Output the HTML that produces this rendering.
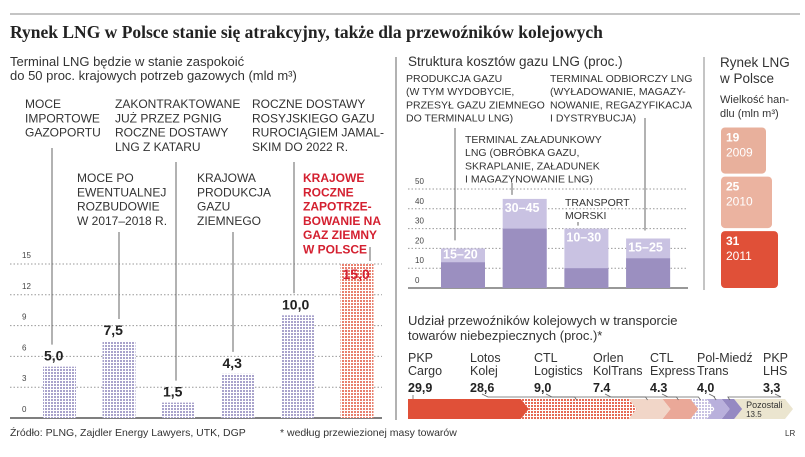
<!DOCTYPE html>
<html><head><meta charset="utf-8"><style>
html,body{margin:0;padding:0;background:#fff;}
svg{display:block;font-family:"Liberation Sans",sans-serif;}
</style></head><body>
<svg id="s" width="805" height="457" viewBox="0 0 805 457" xmlns="http://www.w3.org/2000/svg">
<line x1="10" y1="14" x2="800" y2="14" stroke="#888" stroke-width="1"/>
<text x="10" y="38" font-family="Liberation Serif,serif" font-weight="bold" font-size="17.5" fill="#222">Rynek LNG w Polsce stanie się atrakcyjny, także dla przewoźników kolejowych</text>
<line x1="396" y1="57" x2="396" y2="420" stroke="#666"/>
<line x1="704" y1="57" x2="704" y2="290" stroke="#888"/>
<g font-size="13" fill="#333">
<text x="10" y="66">Terminal LNG będzie w stanie zaspokoić</text>
<text x="10" y="80">do 50 proc. krajowych potrzeb gazowych (mld m³)</text>
</g>
<g id="left"></g>
<g font-size="13.5" fill="#333">
<text x="408" y="66">Struktura kosztów gazu LNG (proc.)</text>
</g>
<g id="mid"></g>
<g fill="#333">
<text x="720" y="67" font-size="13.5">Rynek LNG</text>
<text x="720" y="83" font-size="13.5">w Polsce</text>
<text x="720" y="103" font-size="11">Wielkość han-</text>
<text x="720" y="117" font-size="11">dlu (mln m³)</text>
</g>
<g id="mkt"></g>
<g fill="#333" font-size="13">
<text x="408" y="325">Udział przewoźników kolejowych w transporcie</text>
<text x="408" y="340">towarów niebezpiecznych (proc.)*</text>
</g>
<g id="rail"></g>
<g fill="#333" font-size="10.5">
<text x="10" y="436">Źródło: PLNG, Zajdler Energy Lawyers, UTK, DGP</text>
<text x="280" y="436">* według przewiezionej masy towarów</text>
<text x="785" y="436" font-size="8">LR</text>
</g>
<defs>
<pattern id="dotP" width="3" height="3" patternUnits="userSpaceOnUse"><rect width="3" height="3" fill="#fff"/><rect width="2" height="2" fill="#a9a3cc"/></pattern>
<pattern id="dotR" width="3" height="3" patternUnits="userSpaceOnUse"><rect width="3" height="3" fill="#fff"/><rect width="2" height="2" fill="#e8806e"/></pattern>
<pattern id="dotRail" width="3" height="3" patternUnits="userSpaceOnUse"><rect width="3" height="3" fill="#fff"/><rect width="2" height="2" fill="#e66a55"/></pattern>
<pattern id="dotLav" width="3" height="3" patternUnits="userSpaceOnUse"><rect width="3" height="3" fill="#fff"/><rect width="2" height="2" fill="#c9c2e2"/></pattern>
</defs>
</svg>
<script>
const NS="http://www.w3.org/2000/svg";
// left chart data
const supplyCats=["moce-importowe","moce-po-rozbudowie","katar","krajowa-produkcja","jamal","zapotrzebowanie"];
const supplyValues=[5.0,7.5,1.5,4.3,10.0,15.0];
const supplyLabels=["5,0","7,5","1,5","4,3","10,0","15,0"];
const leftTicks=[0,3,6,9,12,15];
// cost chart data
const costCats=["produkcja","terminal-zaladunkowy","transport","terminal-odbiorczy"];
const costLow=[13,30,10,15];
const costHigh=[20,45,30,25];
const costLabels=["15–20","30–45","10–30","15–25"];
const costTicks=[0,10,20,30,40,50];
// market
const mktYears=["2009","2010","2011"];
const mktValues=[19,25,31];
// rail
const railNames=[["PKP","Cargo"],["Lotos","Kolej"],["CTL","Logistics"],["Orlen","KolTrans"],["CTL","Express"],["Pol-Miedź","Trans"],["PKP","LHS"],["Pozostali"]];
const railValues=[29.9,28.6,9.0,7.4,4.3,4.0,3.3,13.5];
const railSep=[",",",",",",".",".",",",","];

function el(tag,attrs,parent,txt){const e=document.createElementNS(NS,tag);for(const k in attrs)e.setAttribute(k,attrs[k]);if(txt!==undefined)e.textContent=txt;parent.appendChild(e);return e;}

// LEFT
const L=document.getElementById('left');
const ly=v=>418-v*10.27;
const lx=i=>43+i*59.5;
leftTicks.forEach(t=>{
 const g=el('line',{x1:10,x2:382,y1:ly(t),y2:ly(t),stroke:t===0?'#555':'#999','stroke-dasharray':t===0?'':'1.5,2','stroke-width':t===0?1.5:1},L);
 
 
 const tx=el('text',{x:22,y:ly(t)-6,'font-size':8,fill:'#444'},L,String(t));
 
 
});
const leadTop=[148,232,162,232,162,247];
const leadX=[52,119,176,233,294,370];
supplyValues.forEach((v,i)=>{
 const r=el('rect',{x:lx(i),y:ly(v),width:33,height:418-ly(v),fill:i===5?'url(#dotR)':'url(#dotP)'},L);
 
 
 const t=el('text',{x:lx(i)+(i===5?2:1),y:i===5?ly(v)+15:ly(v)-6,'font-size':14,'font-weight':'bold',fill:i===5?'#d42030':'#222'},L,supplyLabels[i]);
 
 
 const yEnd=i===5?ly(v)-3:ly(v)-22;
 const ln=el('line',{x1:leadX[i],x2:leadX[i],y1:leadTop[i],y2:yEnd,stroke:'#666'},L);
 
 
});
const annos=[
 [25,108,["MOCE","IMPORTOWE","GAZOPORTU"],'#333',false],
 [115,108,["ZAKONTRAKTOWANE","JUŻ PRZEZ PGNIG","ROCZNE DOSTAWY","LNG Z KATARU"],'#333',false],
 [252,108,["ROCZNE DOSTAWY","ROSYJSKIEGO GAZU","RUROCIĄGIEM JAMAL-","SKIM DO 2022 R."],'#333',false],
 [77,182,["MOCE PO","EWENTUALNEJ","ROZBUDOWIE","W 2017–2018 R."],'#333',false],
 [197,182,["KRAJOWA","PRODUKCJA","GAZU","ZIEMNEGO"],'#333',false],
 [303,182,["KRAJOWE","ROCZNE","ZAPOTRZE-","BOWANIE NA","GAZ ZIEMNY","W POLSCE"],'#d42030',true]
];
annos.forEach(a=>{a[2].forEach((s,j)=>{const t=el('text',{x:a[0],y:a[1]+j*14.3,'font-size':a[4]?12:12,'font-weight':a[4]?'bold':'normal',fill:a[3]},L,s);
 
 });});

// MID
const M=document.getElementById('mid');
const my=v=>288-v*1.98;
const mx=i=>441+i*61.7;
costTicks.forEach(t=>{
 const g=el('line',{x1:408,x2:688,y1:my(t),y2:my(t),stroke:t===0?'#777':'#999','stroke-dasharray':t===0?'':'1.5,2','stroke-width':t===0?1.5:1},M);
 
 
 const tx=el('text',{x:415,y:my(t)-5,'font-size':8,fill:'#444'},M,String(t));
 
 
});
costLow.forEach((v,i)=>{
 const h=el('rect',{x:mx(i),y:my(costHigh[i]),width:44,height:288-my(costHigh[i]),fill:'#c9c2e2'},M);
 
 
 const l=el('rect',{x:mx(i),y:my(v),width:44,height:288-my(v),fill:'#9b8fc0'},M);
 
 
 const t=el('text',{x:mx(i)+2,y:my(costHigh[i])+(i===0?10:13),'font-size':12.5,'font-weight':'bold',fill:'#fff'},M,costLabels[i]);
 
 
});
const mAnn=[[406,82,["PRODUKCJA GAZU","(W TYM WYDOBYCIE,","PRZESYŁ GAZU ZIEMNEGO","DO TERMINALU LNG)"]],
 [550,82,["TERMINAL ODBIORCZY LNG","(WYŁADOWANIE, MAGAZY-","NOWANIE, REGAZYFIKACJA","I DYSTRYBUCJA)"]],
 [465,143,["TERMINAL ZAŁADUNKOWY","LNG (OBRÓBKA GAZU,","SKRAPLANIE, ZAŁADUNEK","I MAGAZYNOWANIE LNG)"]],
 [565,206,["TRANSPORT","MORSKI"]]];
mAnn.forEach(a=>a[2].forEach((s,j)=>{const t=el('text',{x:a[0],y:a[1]+j*13.2,'font-size':10.5,fill:'#333'},M,s);
 
 }));
[[455,128,my(costHigh[0])-8],[512,183,my(costHigh[1])-4],[645,118,my(costHigh[3])-8],[578,222,my(costHigh[2])-3]].forEach(p=>{
 const ln=el('line',{x1:p[0],x2:p[0],y1:p[1],y2:p[2],stroke:'#666'},M);
 
 
});

// MARKET
const K=document.getElementById('mkt');
const mktColors=['#e8b09c','#ebb3a0','#e05038'];
const base=288;
let curBottom=base;
for(let i=mktValues.length-1;i>=0;i--){
 const h=mktValues[i]*0.9+29;
 const w=45+(mktValues[i]-19)*1.0;
 const r=el('rect',{x:721,y:curBottom-h,width:w,height:h,rx:4,fill:mktColors[i]},K);
 
 
 const t1=el('text',{x:726,y:curBottom-h+14,'font-size':12,'font-weight':'bold',fill:'#fff'},K,String(mktValues[i]));
 
 
 const t2=el('text',{x:726,y:curBottom-h+29,'font-size':12,fill:'#fff'},K,mktYears[i]);
 
 
 curBottom=curBottom-h-3;
}

// RAIL
const R=document.getElementById('rail');
const railFills=['#e05038','url(#dotRail)','#f1d6c8','#eaa898','url(#dotLav)','#b9b0dc','#9589c2','#ebe5cf'];
const rx=v=>408+v*3.77;
const labelX=[408,470,534,593,650,697,763];
let acc=0;
const segs=[];
railValues.forEach((v,i)=>{
 const x0=rx(acc),x1=rx(acc+v);acc+=v;segs.push([x0,x1]);
 const tip=8,y0=399,y1=419,ym=409;
 const pts=i===0?`${x0},${y0} ${x1},${y0} ${x1+tip},${ym} ${x1},${y1} ${x0},${y1}`:`${x0},${y0} ${x1},${y0} ${x1+tip},${ym} ${x1},${y1} ${x0},${y1} ${x0+tip},${ym}`;
 const p=el('polygon',{points:pts,fill:railFills[i]},R);
 
 
});
Array.from(R.querySelectorAll('polygon')).reverse().forEach(p=>R.appendChild(p));
railValues.forEach((v,i)=>{
 if(i===7){
  const t=el('text',{x:segs[i][0]+12,y:408,'font-size':9,fill:'#333'},R,'Pozostali');
  
  
  const t2=el('text',{x:segs[i][0]+12,y:417,'font-size':8,fill:'#333'},R,String(v));
  
  
  return;
 }
 const x=labelX[i];
 railNames[i].forEach((s,j)=>{const t=el('text',{x:x,y:362+j*13,'font-size':12.5,fill:'#333'},R,s);
  
  });
 const vt=el('text',{x:x,y:392,'font-size':12.5,'font-weight':'bold',fill:'#222'},R,v.toFixed(1).replace('.',railSep[i]));
 
 
 const mid=(segs[i][0]+segs[i][1])/2;
 const sx=i===0?x+5:x+12;
 const ln=el('polyline',{points:i===0?`${sx},395 ${sx},399`:`${sx},394 ${sx+6},397 ${mid},397 ${mid+2},400`,fill:'none',stroke:'#666','stroke-width':0.8},R);
 
 
});
</script>
</body></html>
